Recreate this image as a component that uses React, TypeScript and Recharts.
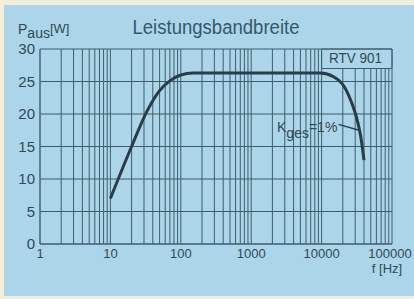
import { LineChart, Line, XAxis, YAxis, ReferenceLine, ReferenceArea } from "recharts";

const freqHz = [10, 20, 33, 50, 70, 100, 150, 1000, 9600, 15000, 21000, 27000, 32000, 36000, 40000];
const powerW = [7.0, 15.0, 20.4, 23.6, 25.1, 26.0, 26.3, 26.3, 26.3, 25.7, 24.2, 21.6, 19.1, 16.5, 12.9];

const xTicks = [1, 10, 100, 1000, 10000, 100000];
const xTickLabels = ["1", "10", "100", "1000", "10000", "100000"];
const yTicks = [0, 5, 10, 15, 20, 25, 30];
const gridMultipliers = [1, 2, 3, 4, 5, 6, 7, 8, 9];

const data = freqHz.map((f, i) => ({ f, p: powerW[i] }));

// log paper: 1..9 per decade
const vGrid: number[] = [];
xTicks.slice(0, -1).forEach((d) => gridMultipliers.forEach((m) => vGrid.push(d * m)));
vGrid.push(100000);

const BG = "#acd5e9";
const GRID = "#3e5d6b";
const INK = "#2f4956";
const FONT = "'Liberation Sans', Arial, sans-serif";

function XTick({ x, y, payload }: any) {
  const i = xTicks.indexOf(payload.value);
  return (
    <text x={x} y={y + 14} textAnchor="middle" fontSize={13} fill={INK} fontFamily={FONT}>
      {xTickLabels[i]}
    </text>
  );
}

function YTick({ x, y, payload }: any) {
  return (
    <text x={x - 5} y={y + 5} textAnchor="end" fontSize={15} fill={INK} fontFamily={FONT}>
      {payload.value}
    </text>
  );
}

export default function App() {
  return (
    <div style={{ position: "absolute", left: 0, top: 0, width: 414, height: 299, background: "#f2eedc" }}>
      <div style={{ position: "absolute", left: 4, top: 5, right: 0, bottom: 3, background: BG }} />
      <div style={{ position: "absolute", left: 0, top: 0 }}>
        <LineChart width={414} height={299} data={data} margin={{ top: 49, right: 22, bottom: 25, left: 0 }}>
          <XAxis
            dataKey="f"
            type="number"
            scale="log"
            domain={[1, 100000]}
            ticks={xTicks}
            height={30}
            axisLine={false}
            tickLine={false}
            tickSize={0}
            tickMargin={0}
            tick={<XTick />}
            allowDataOverflow
          />
          <YAxis
            type="number"
            domain={[0, 30]}
            ticks={yTicks}
            width={40}
            axisLine={false}
            tickLine={false}
            tickSize={0}
            tickMargin={0}
            tick={<YTick />}
          />
          {yTicks.map((v) => (
            <ReferenceLine key={"h" + v} y={v} stroke={GRID} strokeWidth={v === 0 ? 1.4 : 1} />
          ))}
          {vGrid.map((v) => (
            <ReferenceLine
              key={"v" + v}
              segment={[
                { x: v, y: 0 },
                { x: v, y: v > 10000 && v < 100000 ? 27 : 30 },
              ]}
              stroke={GRID}
              strokeWidth={v === 1 ? 1.4 : 1}
            />
          ))}
          <ReferenceArea x1={10000} x2={100000} y1={27} y2={30} fill="none" stroke={GRID} strokeWidth={1} />
          <ReferenceLine
            segment={[
              { x: 17400, y: 18.4 },
              { x: 34000, y: 17.5 },
            ]}
            stroke="#2b3f4c"
            strokeWidth={1.5}
          />
          <Line
            type="monotone"
            dataKey="p"
            stroke="#283c49"
            strokeWidth={3}
            dot={false}
            isAnimationActive={false}
          />
        </LineChart>
      </div>
      <svg
        width={414}
        height={299}
        style={{ position: "absolute", left: 0, top: 0, pointerEvents: "none" }}
        fontFamily={FONT}
      >
        <text x={216} y={34} textAnchor="middle" fontSize={20} fill="#35586a" textLength={167} lengthAdjust="spacingAndGlyphs">
          Leistungsbandbreite
        </text>
        <text x={18} y={34} fontSize={14} fill={INK}>
          P<tspan dy={4}>aus</tspan>
          <tspan dy={-5} fontSize={13}>[W]</tspan>
        </text>
        <text x={329} y={63} fontSize={14} fill={INK} textLength={53} lengthAdjust="spacingAndGlyphs">
          RTV 901
        </text>
        <text x={277} y={132} fontSize={14} fill={INK}>
          K<tspan dy={6}>ges</tspan>
          <tspan dy={-6}>=1%</tspan>
        </text>
        <text x={387} y={273} textAnchor="middle" fontSize={13} fill={INK}>
          f [Hz]
        </text>
      </svg>
    </div>
  );
}
